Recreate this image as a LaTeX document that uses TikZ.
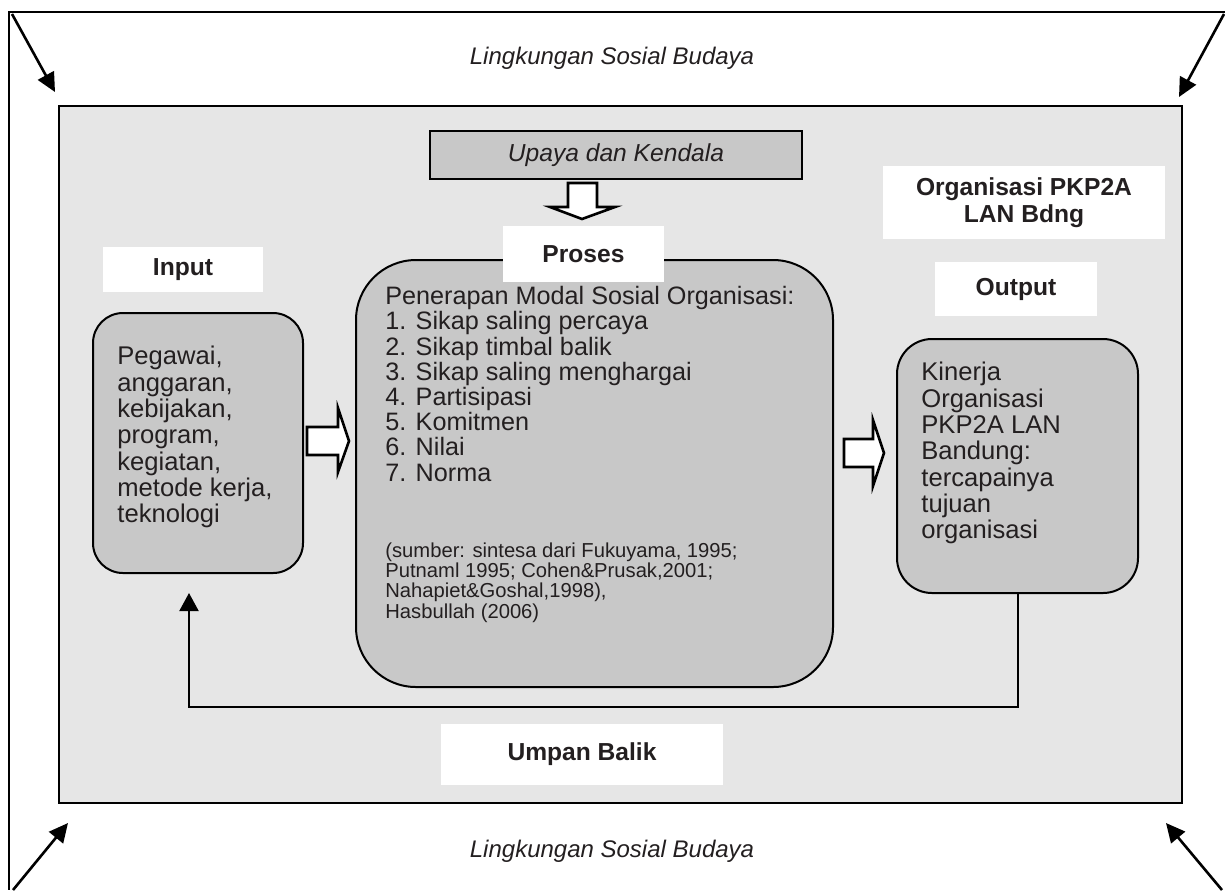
\documentclass[tikz,border=0pt]{standalone}
\usepackage{fontspec}
\setmainfont{Liberation Sans}
\usetikzlibrary{arrows.meta,calc}
\definecolor{envgray}{HTML}{E6E6E6}
\definecolor{boxgray}{HTML}{C8C8C8}
\definecolor{ink}{HTML}{231F20}
\tikzset{
  rbox/.style={draw=black, line width=1pt, fill=boxgray, inner sep=0pt},
  lbl/.style={fill=white, inner sep=0pt, align=center, text=ink, font=\bfseries\fontsize{12.3}{13.2}\selectfont},
  body/.style={inner sep=0pt, align=left, anchor=north west, text=ink, font=\fontsize{12.8}{13.15}\selectfont},
  proctextstyle/.style={inner sep=0pt, align=left, anchor=north west, text=ink, font=\fontsize{12.6}{12.6}\selectfont},
  smalltext/.style={inner sep=0pt, align=left, anchor=north west, text=ink, font=\fontsize{10.1}{10.2}\selectfont},
  envtext/.style={inner sep=0pt, text=ink, font=\itshape\fontsize{12}{14}\selectfont},
  cornerarrow/.style={line width=1.3pt, -{Triangle[length=9.5pt,width=9pt]}},
  hollow/.style={draw=black, line width=1.3pt, fill=white, line join=miter},
  fb/.style={line width=1pt, -{Triangle[length=9pt,width=9.5pt]}},
}
\begin{document}
\begin{tikzpicture}[x=0.5pt,y=-0.5pt]
\useasboundingbox (0,0) rectangle (1225,890);
% outer frame
\draw[line width=1pt] (1225,12) -- (9,12) -- (9,890);
% environment rectangle
\node[draw=black, line width=1pt, fill=envgray, minimum width=561.5pt, minimum height=348.5pt, inner sep=0pt] (env) at (620.5,454.5) {};
% corner arrows
\coordinate (tls) at (12,14);   \coordinate (tlt) at (55,92);
\coordinate (trs) at (1224,14); \coordinate (trt) at (1179,97);
\coordinate (bls) at (13,890);  \coordinate (blt) at (68,823);
\coordinate (brs) at (1222,890);\coordinate (brt) at (1166,823);
\draw[cornerarrow] (tls) -- (tlt);
\draw[cornerarrow] (trs) -- (trt);
\draw[cornerarrow] (bls) -- (blt);
\draw[cornerarrow] (brs) -- (brt);
% environment labels
\node[envtext] (envtop) at (612,58) {Lingkungan Sosial Budaya};
\node[envtext] (envbot) at (612,851) {Lingkungan Sosial Budaya};
% Upaya box
\node[draw=black, line width=1pt, fill=boxgray, minimum width=186pt, minimum height=24pt, inner sep=0pt, text=ink, font=\itshape\fontsize{12.3}{14}\selectfont] (upaya) at (616,155) {Upaya dan Kendala};
% boxes
\node[rbox, rounded corners=15pt, minimum width=105pt, minimum height=130pt] (inbox) at (198,443) {};
\node[rbox, rounded corners=30pt, minimum width=238.5pt, minimum height=213.5pt] (procbox) at (594.5,473.5) {};
\node[rbox, rounded corners=17.5pt, minimum width=120.5pt, minimum height=127pt] (outbox) at (1017.5,466) {};
% labels
\node[lbl, minimum width=80pt, minimum height=22.5pt] (inlbl) at (183,269.5) {Input};
\node[lbl, minimum width=80.5pt, minimum height=28pt] (proslbl) at (583.5,254) {Proses};
\node[lbl, minimum width=81pt, minimum height=27pt] (outlbl) at (1016,289) {Output};
\node[lbl, minimum width=141pt, minimum height=36.5pt] (orglbl) at (1024,202.5) {Organisasi PKP2A\\LAN Bdng};
\node[lbl, minimum width=141pt, minimum height=30.5pt] (umplbl) at (582,754.5) {Umpan Balik};
% hollow arrows
\coordinate (ha0) at (568,183);
\draw[hollow] (ha0) -- ++(29,0) -- ++(0,24) -- ++(18,0) -- ++(-33,12) -- ++(-32,-12) -- ++(18,0) -- cycle;
\coordinate (ha1) at (307,427);
\draw[hollow] (ha1) -- ++(31,0) -- ++(0,-19) -- ++(11,33) -- ++(-11,31) -- ++(0,-17) -- ++(-31,0) -- cycle;
\coordinate (ha2) at (844,439);
\draw[hollow] (ha2) -- ++(29,0) -- ++(0,-19) -- ++(11,33) -- ++(-11,33) -- ++(0,-19) -- ++(-29,0) -- cycle;
% feedback
\coordinate (fbl) at (189,707);
\coordinate (fbtip) at (189,593);
\draw[fb] (outbox.south) -- (outbox.south |- fbl) -- (fbl) -- (fbtip);
% texts
\node[body] (intext) at (117,346) {Pegawai,\\anggaran,\\kebijakan,\\program,\\kegiatan,\\metode kerja,\\teknologi};
\node[proctextstyle] (proctext) at (385,286) {Penerapan Modal Sosial Organisasi:\\1. Sikap saling percaya\\2. Sikap timbal balik\\3. Sikap saling menghargai\\4. Partisipasi\\5. Komitmen\\6. Nilai\\7. Norma};
\node[smalltext] (srctext) at (385,542) {(sumber: sintesa dari Fukuyama, 1995;\\Putnaml 1995; Cohen\&Prusak,2001;\\Nahapiet\&Goshal,1998),\\Hasbullah (2006)};
\node[body] (outtext) at (921,362) {Kinerja\\Organisasi\\PKP2A LAN\\Bandung:\\tercapainya\\tujuan\\organisasi};
\end{tikzpicture}
\end{document}
